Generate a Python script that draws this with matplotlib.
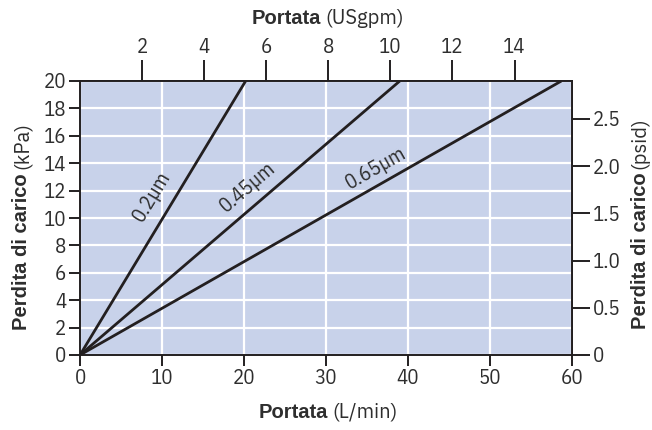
import matplotlib
matplotlib.use("Agg")
import matplotlib.pyplot as plt
import numpy as np

# Data
series_names = ["0.2µm", "0.45µm", "0.65µm"]
flow_lmin = [[0, 20.2], [0, 39.0], [0, 58.7]]
dp_kpa = [[0, 20], [0, 20], [0, 20]]
label_pos_x = [8.8, 20.5, 36.1]
label_pos_y = [11.6, 12.25, 13.65]

x_ticks = [0, 10, 20, 30, 40, 50, 60]
y_ticks = [0, 2, 4, 6, 8, 10, 12, 14, 16, 18, 20]
top_ticks = [2, 4, 6, 8, 10, 12, 14]
right_ticks = [0, 0.5, 1.0, 1.5, 2.0, 2.5]
right_labels = ["0", "0.5", "1.0", "1.5", "2.0", "2.5"]

LMIN_PER_GPM = 3.78541
KPA_PER_PSI = 6.89476

COND = ["IBM Plex Sans Condensed", "Liberation Sans", "DejaVu Sans"]
LIGHT = ["IBM Plex Sans", "Liberation Sans", "DejaVu Sans"]
BOLD = ["Liberation Sans", "DejaVu Sans"]
plt.rcParams['font.family'] = ["Liberation Sans", "DejaVu Sans"]

dark = "#231f20"
txtc = "#2e2e2e"
bg = "#c8d2ea"
TICK_FS = 15
TICK_W = "normal"

fig = plt.figure(figsize=(6.52, 4.30), dpi=100)
ax = fig.add_axes([80/652, 75/430, 492/652, 274/430])
ax.set_facecolor(bg)
ax.set_xlim(0, 60)
ax.set_ylim(0, 20)
ax.set_xticks(x_ticks)
ax.set_yticks(y_ticks)
ax.grid(True, color="white", linewidth=1.6)
ax.set_axisbelow(True)
for s in ax.spines.values():
    s.set_color(dark)
    s.set_linewidth(1.4)
ax.tick_params(axis="both", colors=dark, width=1.4, length=8, labelsize=TICK_FS, pad=2)

def style_labels(labels):
    for lab in labels:
        lab.set_fontfamily(COND)
        lab.set_fontweight(TICK_W)
        lab.set_color(txtc)

style_labels(ax.get_xticklabels() + ax.get_yticklabels())

for fx, fy in zip(flow_lmin, dp_kpa):
    ax.plot(fx, fy, color=dark, linewidth=2.0, solid_capstyle="butt")

fig.canvas.draw()
for fx, fy, name, lx, ly in zip(flow_lmin, dp_kpa, series_names, label_pos_x, label_pos_y):
    p0 = ax.transData.transform((fx[0], fy[0]))
    p1 = ax.transData.transform((fx[1], fy[1]))
    ang = np.degrees(np.arctan2(p1[1]-p0[1], p1[0]-p0[0]))
    ax.text(lx, ly, name, rotation=ang, rotation_mode="anchor", ha="center", va="center",
            fontsize=15, color=txtc, fontfamily=COND, fontweight=TICK_W)

top = ax.secondary_xaxis("top", functions=(lambda x: x / LMIN_PER_GPM, lambda g: g * LMIN_PER_GPM))
top.set_xticks(top_ticks)
top.tick_params(colors=dark, width=1.4, length=15, labelsize=TICK_FS, pad=2)
style_labels(top.get_xticklabels())
top.spines["top"].set_color(dark); top.spines["top"].set_linewidth(1.4)

right = ax.secondary_yaxis("right", functions=(lambda k: k / KPA_PER_PSI, lambda p: p * KPA_PER_PSI))
right.set_yticks(right_ticks)
right.set_yticklabels(right_labels)
right.tick_params(colors=dark, width=1.4, length=13, labelsize=TICK_FS, pad=2)
style_labels(right.get_yticklabels())
right.spines["right"].set_color(dark); right.spines["right"].set_linewidth(1.4)

fig.canvas.draw()
r = fig.canvas.get_renderer()
LAB_FS = 14.5

def hlabel(xc, y, bold, normal):
    t1 = fig.text(0, y, bold, fontsize=LAB_FS, fontweight="bold", fontfamily=BOLD, color=txtc, va="center", ha="left")
    t2 = fig.text(0, y, normal, fontsize=LAB_FS, fontweight="light", fontfamily=LIGHT, color=txtc, va="center", ha="left")
    w1 = t1.get_window_extent(r).width / fig.bbox.width
    w2 = t2.get_window_extent(r).width / fig.bbox.width
    gap = 4 / fig.bbox.width
    x0 = xc - (w1 + gap + w2) / 2
    t1.set_x(x0); t2.set_x(x0 + w1 + gap)

def vlabel(x, yc, bold, normal):
    t1 = fig.text(x, 0, bold, fontsize=LAB_FS, fontweight="bold", fontfamily=BOLD, color=txtc, rotation=90, va="bottom", ha="center")
    t2 = fig.text(x, 0, normal, fontsize=LAB_FS, fontweight="light", fontfamily=LIGHT, color=txtc, rotation=90, va="bottom", ha="center")
    h1 = t1.get_window_extent(r).height / fig.bbox.height
    h2 = t2.get_window_extent(r).height / fig.bbox.height
    gap = 4 / fig.bbox.height
    y0 = yc - (h1 + gap + h2) / 2
    t1.set_y(y0); t2.set_y(y0 + h1 + gap)

hlabel(328/652, 1 - 412/430, "Portata", "(L/min)")
hlabel(328/652, 1 - 18/430, "Portata", "(USgpm)")
vlabel(22/652, 1 - 226/430, "Perdita di carico", "(kPa)")
vlabel(640/652, 1 - 223/430, "Perdita di carico", "(psid)")

fig.savefig("out.png", dpi=100)
